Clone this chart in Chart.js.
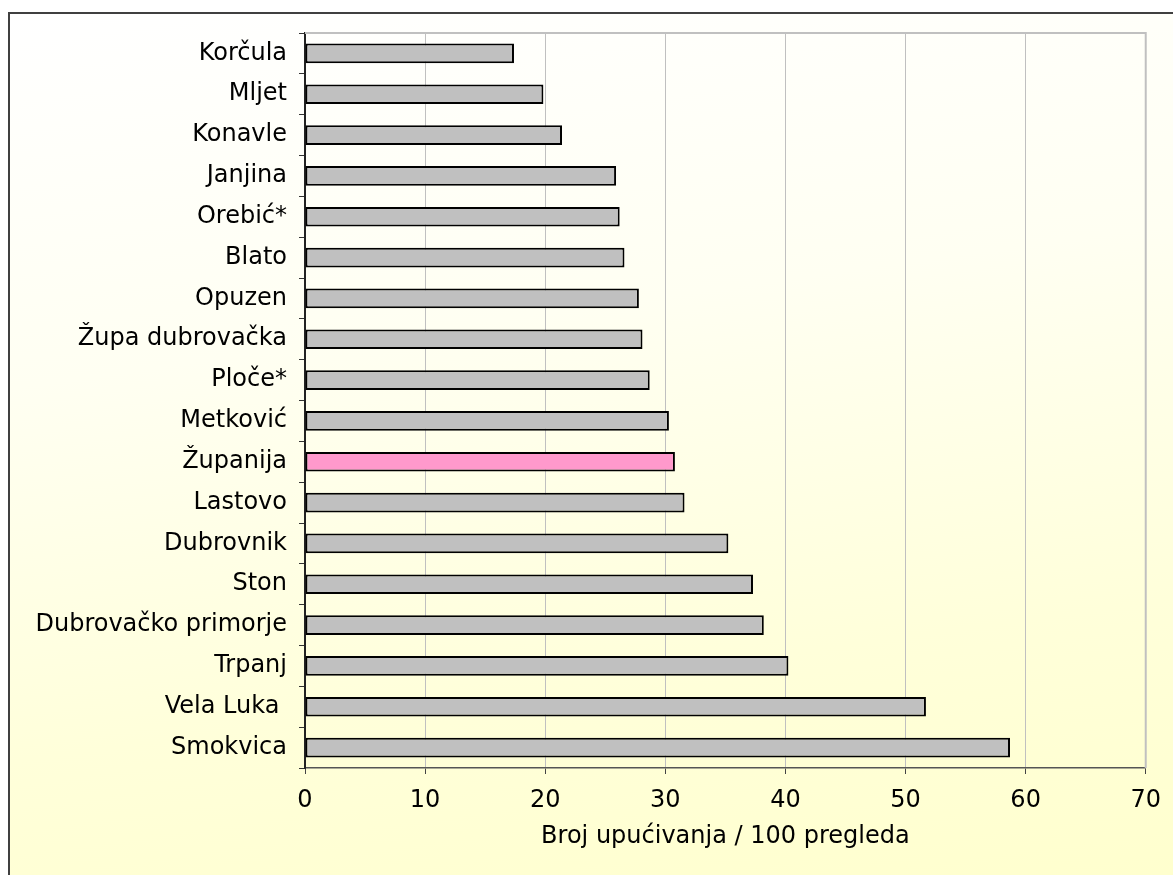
<!DOCTYPE html>
<html>
<head>
<meta charset="utf-8">
<title>Broj upućivanja / 100 pregleda</title>
<script src="https://cdn.jsdelivr.net/npm/chart.js@4.4.1/dist/chart.umd.min.js"></script>
<style>
    html, body { margin: 0; padding: 0; overflow: hidden; background: #ffffff; }
    #frame {
        position: absolute; left: 8px; top: 12px;
        width: 1200px; height: 900px;
        border: 2px solid #404040;
        background: linear-gradient(172deg, #ffffff 0%, #fffff2 35%, #ffffda 70%, #ffffcc 100%);
    }
    #chart { position: absolute; left: 0; top: 0; }
</style>
</head>
<body>
<div id="frame"></div>
<canvas id="chart" width="1173" height="875"></canvas>
<script>
// Categories, top to bottom
const labels = [
    'Korčula', 'Mljet', 'Konavle', 'Janjina', 'Orebić*', 'Blato', 'Opuzen',
    'Župa dubrovačka', 'Ploče*', 'Metković', 'Županija', 'Lastovo', 'Dubrovnik',
    'Ston', 'Dubrovačko primorje', 'Trpanj', 'Vela Luka ', 'Smokvica'
];

// Values
const values = [
    17.4, 19.85, 21.4, 25.9, 26.2, 26.6, 27.8,
    28.1, 28.7, 30.3, 30.8, 31.6, 35.25,
    37.3, 38.2, 40.25, 51.7, 58.7
];

// Axis
const xMin = 0;
const xMax = 70;
const xStep = 10;
const xTitle = 'Broj upućivanja / 100 pregleda';

// The county total is highlighted
const highlight = 'Županija';
const barColor = '#c0c0c0';
const highlightColor = '#ff99cc';

const FONT = '"DejaVu Sans", Verdana, sans-serif';

// Gray border on top and right of the plot area
const plotFrame = {
    id: 'plotFrame',
    afterDraw(chart) {
        const { ctx, chartArea } = chart;
        ctx.save();
        ctx.strokeStyle = '#c0c0c0';
        ctx.lineWidth = 2;
        ctx.beginPath();
        ctx.moveTo(chartArea.left, chartArea.top);
        ctx.lineTo(chartArea.right, chartArea.top);
        ctx.lineTo(chartArea.right, chartArea.bottom);
        ctx.stroke();
        ctx.restore();
    }
};

const ctx = document.getElementById('chart').getContext('2d');
new Chart(ctx, {
    type: 'bar',
    data: {
        labels: labels,
        datasets: [{
            data: values,
            backgroundColor: labels.map(l => l === highlight ? highlightColor : barColor),
            borderColor: '#000000',
            borderWidth: 2,
            borderSkipped: false,
            barPercentage: 0.48,
            categoryPercentage: 1.0
        }]
    },
    options: {
        indexAxis: 'y',
        responsive: false,
        animation: false,
        devicePixelRatio: 1,
        layout: { padding: { top: 33, right: 21, left: 0, bottom: 0 } },
        plugins: {
            legend: { display: false },
            tooltip: { enabled: false }
        },
        scales: {
            x: {
                min: xMin,
                max: xMax,
                afterFit(scale) { scale.height = 107; },
                grid: {
                    color: '#c0c0c0',
                    lineWidth: 1,
                    tickColor: '#444444',
                    tickLength: 6
                },
                border: { color: '#555555', width: 1.5 },
                ticks: {
                    stepSize: xStep,
                    color: '#000000',
                    padding: 12,
                    font: { family: FONT, size: 24 }
                },
                title: {
                    display: true,
                    text: xTitle,
                    color: '#000000',
                    font: { family: FONT, size: 24 },
                    padding: { top: 0, bottom: 24 }
                }
            },
            y: {
                afterFit(scale) { scale.width = 305; },
                grid: {
                    offset: true,
                    drawOnChartArea: false,
                    tickColor: '#333333',
                    tickLength: 6
                },
                border: { color: '#222222', width: 2 },
                ticks: {
                    color: '#000000',
                    padding: 12,
                    autoSkip: false,
                    font: { family: FONT, size: 24 }
                }
            }
        }
    },
    plugins: [plotFrame]
});
</script>
</body>
</html>
